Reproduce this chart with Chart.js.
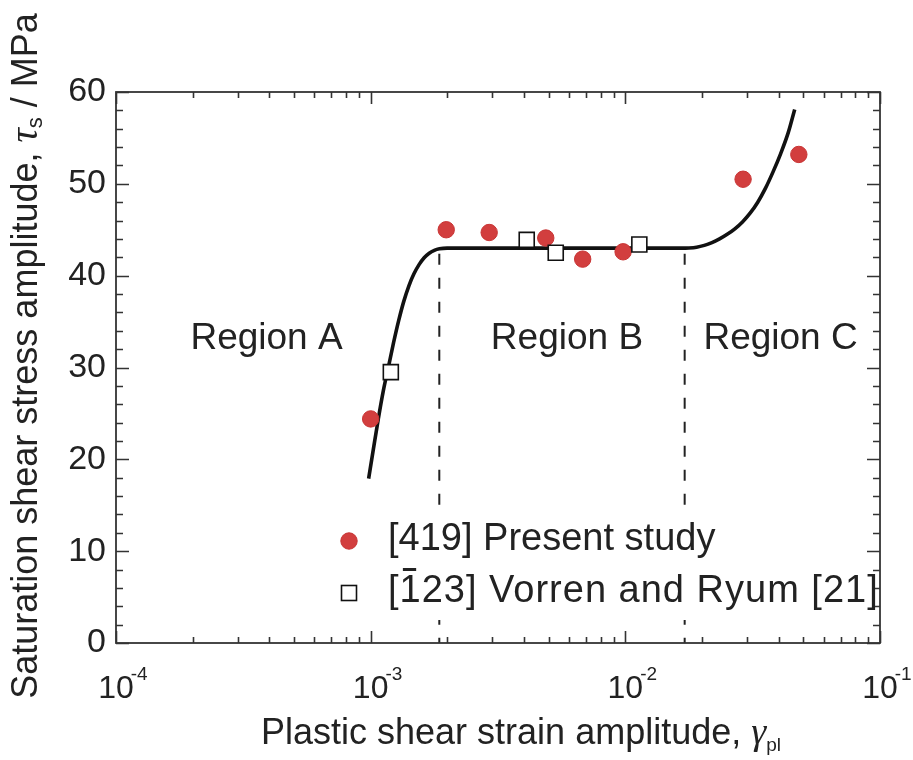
<!DOCTYPE html>
<html><head><meta charset="utf-8">
<script src="https://cdn.jsdelivr.net/npm/chart.js@4/dist/chart.umd.min.js"></script>
<style>html,body{margin:0;padding:0;background:#fff}</style>
</head><body>
<canvas id="c" width="913" height="760" style="width:913px;height:760px;display:block"></canvas>
<script>
// ---- data ----
const presentX = [1.0e-3, 1.98e-3, 2.92e-3, 4.87e-3, 6.8e-3, 9.8e-3, 2.9e-2, 4.8e-2];
const presentY = [24.4, 45.0, 44.7, 44.1, 41.8, 42.6, 50.5, 53.2];
const vorrenX = [1.2e-3, 4.1e-3, 5.33e-3, 1.135e-2];
const vorrenY = [29.5, 43.9, 42.5, 43.4];
const curveX = [9.817e-4, 1.0233e-3, 1.0715e-3, 1.122e-3, 1.175e-3, 1.230e-3, 1.288e-3, 1.349e-3,
  1.413e-3, 1.479e-3, 1.549e-3, 1.622e-3, 1.698e-3, 1.778e-3, 1.862e-3, 1.995e-3, 2.239e-3,
  5.0e-3, 1.2e-2, 1.66e-2, 1.778e-2, 1.905e-2, 2.042e-2, 2.188e-2, 2.344e-2, 2.512e-2, 2.692e-2,
  2.884e-2, 3.09e-2, 3.311e-2, 3.548e-2, 3.802e-2, 4.074e-2, 4.365e-2, 4.624e-2];
const curveY = [17.9, 21.0, 24.4, 27.5, 30.1, 32.7, 35.1, 37.2,
  38.9, 40.2, 41.2, 41.95, 42.45, 42.75, 42.92, 43.0, 43.0,
  43.0, 43.0, 43.0, 43.02, 43.1, 43.3, 43.6, 44.0, 44.5, 45.1,
  45.85, 46.8, 48.0, 49.5, 51.3, 53.3, 55.6, 58.1];
const boundaryX = [1.86e-3, 1.71e-2];
const boundaryTopY = 42.4;
const regionNames = ['Region A', 'Region B', 'Region C'];
const regionCenterX = [3.9e-4, 5.9e-3, 4.07e-2];
const regionY = 33.3;
const yTickValues = [0, 10, 20, 30, 40, 50, 60];
const xTickExponents = [-4, -3, -2, -1];
const seriesNames = ['[419] Present study', '[123] Vorren and Ryum [21]'];

const SANS = '"Liberation Sans", Arial, sans-serif';
const SERIF = '"Liberation Serif", "Times New Roman", serif';
const INK = '#222';
const RED = '#d23e3e';

function pts(xs, ys) { return xs.map((x, i) => ({x, y: ys[i]})); }

const datasets = [
  {label: seriesNames[1], data: pts(vorrenX, vorrenY), pointStyle: 'rect', pointRadius: 10.6,
   backgroundColor: '#fff', borderColor: '#111', borderWidth: 1.6, showLine: false, order: 0},
  {label: seriesNames[0], data: pts(presentX, presentY), pointStyle: 'circle', pointRadius: 8.2,
   backgroundColor: RED, borderColor: '#c83434', borderWidth: 1, showLine: false, order: 1},
  {label: 'fit', data: pts(curveX, curveY), showLine: true, pointRadius: 0, borderColor: '#111',
   borderWidth: 3.6, cubicInterpolationMode: 'monotone', fill: false, order: 2},
];
boundaryX.forEach((bx, i) => {
  datasets.push({label: 'boundary' + i, data: [{x: bx, y: boundaryTopY}, {x: bx, y: 0}], showLine: true,
    pointRadius: 0, borderColor: INK, borderWidth: 2, borderDash: [11, 13], fill: false, order: 3});
});

function drawSegs(ctx, segs, x, y, align) {
  let total = 0;
  segs.forEach(s => { ctx.font = s.font; s.w = ctx.measureText(s.t).width; total += s.w; });
  let cx = align === 'center' ? x - total / 2 : x;
  ctx.textAlign = 'left';
  ctx.textBaseline = 'alphabetic';
  segs.forEach(s => { ctx.font = s.font; ctx.fillText(s.t, cx, y + (s.dy || 0)); cx += s.w; });
}

const framePlugin = {
  id: 'frame',
  afterDraw(chart) {
    const ctx = chart.ctx, a = chart.chartArea;
    const xs = chart.scales.x, ys = chart.scales.y;
    ctx.save();

    // legend background (masks the dashed boundaries, as in the reference)
    const lx = 349, row1 = 541, row2 = 593;
    ctx.fillStyle = '#fff';
    ctx.fillRect(330, 512, 546, 108);

    ctx.strokeStyle = '#333';
    ctx.lineWidth = 1.8;
    ctx.strokeRect(a.left, a.top, a.right - a.left, a.bottom - a.top);
    ctx.lineWidth = 1.6;
    ctx.beginPath();
    for (let v = ys.min; v <= ys.max; v += 2) {
      const p = Math.round(ys.getPixelForValue(v)) + 0.5;
      const len = (v % 10 === 0) ? 13 : 7;
      ctx.moveTo(a.left, p); ctx.lineTo(a.left + len, p);
      ctx.moveTo(a.right, p); ctx.lineTo(a.right - len, p);
    }
    for (let ei = 0; ei < xTickExponents.length; ei++) {
      const e = xTickExponents[ei];
      const maxM = ei === xTickExponents.length - 1 ? 1 : 9;
      for (let m = 1; m <= maxM; m++) {
        const p = Math.round(xs.getPixelForValue(m * Math.pow(10, e))) + 0.5;
        const len = m === 1 ? 12 : 6;
        ctx.moveTo(p, a.bottom); ctx.lineTo(p, a.bottom - len);
        ctx.moveTo(p, a.top); ctx.lineTo(p, a.top + len);
      }
    }
    ctx.stroke();

    ctx.fillStyle = INK;
    ctx.font = '34px ' + SANS;
    ctx.textAlign = 'right';
    ctx.textBaseline = 'middle';
    yTickValues.forEach(v => ctx.fillText(String(v), 106, ys.getPixelForValue(v)));
    xTickExponents.forEach(e => {
      const px = xs.getPixelForValue(Math.pow(10, e));
      ctx.font = '32px ' + SANS;
      const w = ctx.measureText('10').width;
      ctx.textAlign = 'center';
      ctx.textBaseline = 'alphabetic';
      ctx.fillText('10', px, 698);
      ctx.font = '19px ' + SANS;
      ctx.textAlign = 'left';
      ctx.fillText('-' + Math.abs(e), px + w / 2 - 3, 680);
    });

    drawSegs(ctx, [
      {t: 'Plastic shear strain amplitude, ', font: '36px ' + SANS},
      {t: 'γ', font: 'italic 38px ' + SERIF},
      {t: 'pl', font: '19px ' + SANS, dy: 7}
    ], 521, 744, 'center');
    ctx.save();
    ctx.translate(37, 356);
    ctx.rotate(-Math.PI / 2);
    drawSegs(ctx, [
      {t: 'Saturation shear stress amplitude, ', font: '36px ' + SANS},
      {t: 'τ', font: 'italic 40px ' + SERIF},
      {t: 's', font: '22px ' + SANS, dy: 5},
      {t: ' / MPa', font: '36px ' + SANS}
    ], 0, 0, 'center');
    ctx.restore();

    ctx.font = '37px ' + SANS;
    ctx.textAlign = 'center';
    ctx.textBaseline = 'alphabetic';
    regionNames.forEach((r, i) => {
      ctx.fillText(r, xs.getPixelForValue(regionCenterX[i]), ys.getPixelForValue(regionY) + 12);
    });

    // legend
    ctx.beginPath();
    ctx.arc(lx, row1, 8.2, 0, Math.PI * 2);
    ctx.fillStyle = RED; ctx.fill();
    ctx.strokeStyle = '#c83434'; ctx.lineWidth = 1; ctx.stroke();
    ctx.fillStyle = '#fff';
    ctx.fillRect(lx - 7.5, row2 - 7.5, 15, 15);
    ctx.strokeStyle = '#111'; ctx.lineWidth = 1.6;
    ctx.strokeRect(lx - 7.5, row2 - 7.5, 15, 15);
    ctx.fillStyle = INK;
    ctx.font = '38px ' + SANS;
    ctx.textAlign = 'left';
    ctx.textBaseline = 'alphabetic';
    ctx.fillText(seriesNames[0], 388, row1 + 9);
    ctx.letterSpacing = '1px';
    ctx.fillText(seriesNames[1], 388, row2 + 9);
    const wBr = ctx.measureText('[').width;
    const wOne = ctx.measureText('1').width;
    ctx.letterSpacing = '0px';
    ctx.fillRect(388 + wBr + wOne * 0.15, row2 + 9 - 34, wOne * 0.6, 3);
    ctx.restore();
  }
};

new Chart(document.getElementById('c'), {
  type: 'scatter',
  data: {datasets},
  options: {
    responsive: false,
    devicePixelRatio: 1,
    animation: false,
    events: [],
    layout: {padding: {top: 92, right: 33, left: 0, bottom: 0}},
    plugins: {legend: {display: false}, tooltip: {enabled: false}},
    scales: {
      x: {type: 'logarithmic', min: 1e-4, max: 1e-1, ticks: {display: false},
          grid: {display: false}, border: {display: false}, afterFit(s) { s.height = 117; }},
      y: {type: 'linear', min: 0, max: 60, ticks: {display: false},
          grid: {display: false}, border: {display: false}, afterFit(s) { s.width = 116; }}
    }
  },
  plugins: [framePlugin]
});
</script>
</body></html>
